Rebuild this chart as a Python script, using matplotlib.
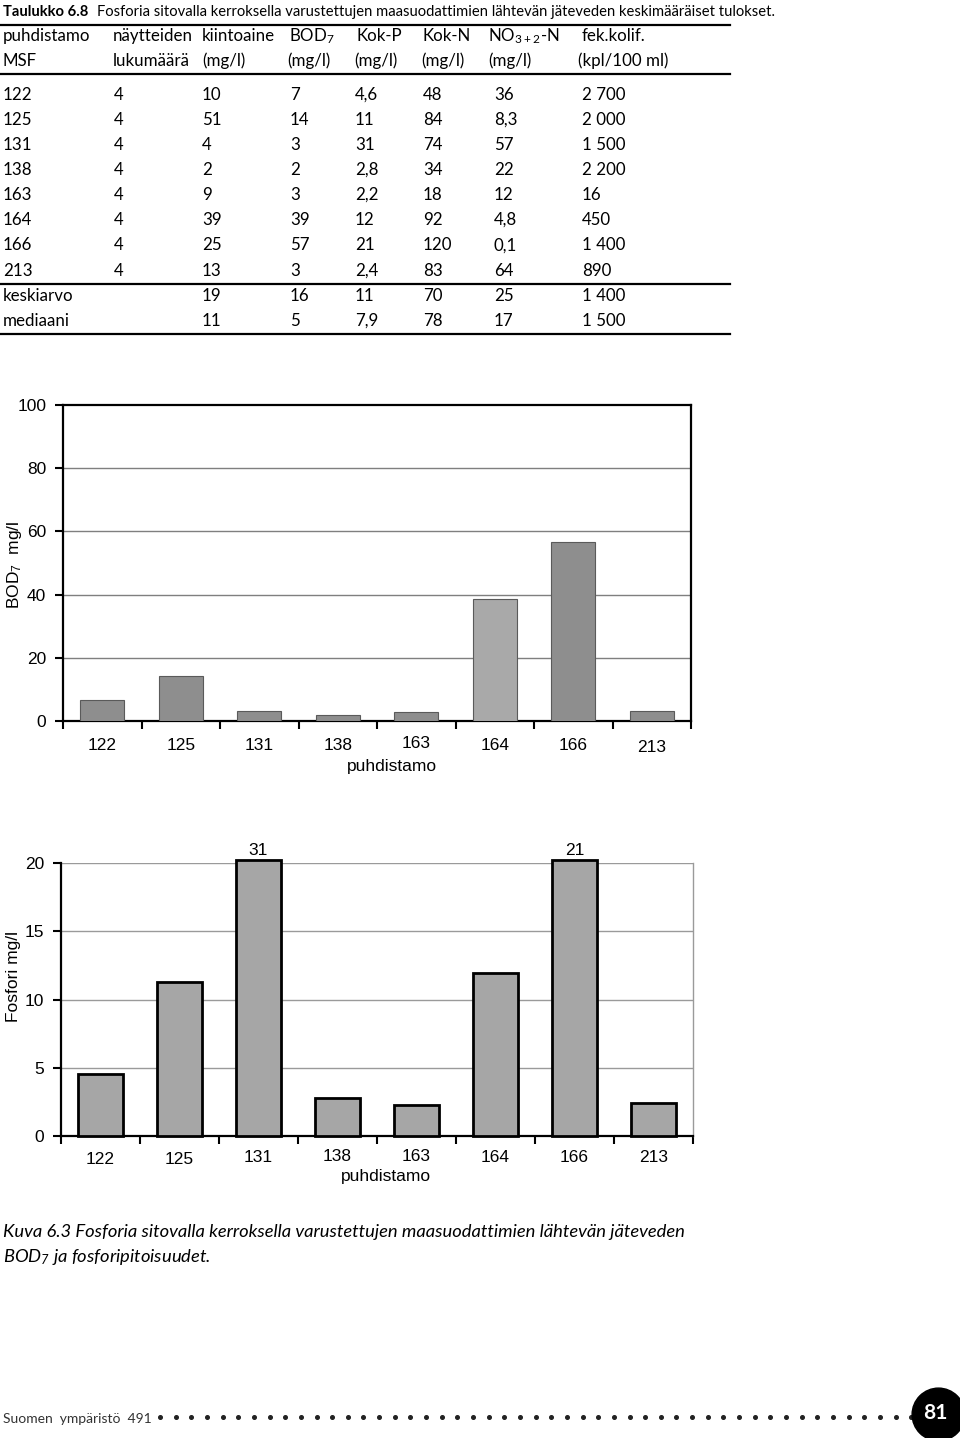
import numpy as np
import matplotlib
matplotlib.use("Agg")
import matplotlib.pyplot as plt
from matplotlib import font_manager

# --- table data ---
msf = ['122', '125', '131', '138', '163', '164', '166', '213']
n_samples = ['4', '4', '4', '4', '4', '4', '4', '4']
kiintoaine = ['10', '51', '4', '2', '9', '39', '25', '13']
bod7 = ['7', '14', '3', '2', '3', '39', '57', '3']
kok_p = ['4,6', '11', '31', '2,8', '2,2', '12', '21', '2,4']
kok_n = ['48', '84', '74', '34', '18', '92', '120', '83']
no32 = ['36', '8,3', '57', '22', '12', '4,8', '0,1', '64']
fek = ['2 700', '2 000', '1 500', '2 200', '16', '450', '1 400', '890']
keskiarvo = ['keskiarvo', '', '19', '16', '11', '70', '25', '1 400']
mediaani = ['mediaani', '', '11', '5', '7,9', '78', '17', '1 500']

# --- chart data ---
bod_bars = [6.5, 14.2, 3.3, 1.9, 2.8, 38.6, 56.6, 3.1]
bod_colors = ['#8e8e8e', '#8e8e8e', '#8e8e8e', '#8e8e8e', '#8e8e8e', '#a9a9a9', '#8e8e8e', '#8e8e8e']
p_bars = [4.54, 11.28, 31, 2.78, 2.25, 11.94, 21, 2.4]

W, H = 960, 1438
fig = plt.figure(figsize=(W / 100, H / 100), dpi=100)
renderer = fig.canvas.get_renderer()


def fx(x):
    return x / W


def fy(y):
    return 1 - y / H


# narrow font for the table if there is one
names = {f.name for f in font_manager.fontManager.ttflist}
if 'Liberation Sans Narrow' in names:
    tfont, tsize = ['Liberation Sans Narrow', 'DejaVu Sans'], 13
else:
    tfont, tsize = ['Lato', 'DejaVu Sans'], 12.2

# title, shrunk part of the way towards the page width
title_a = 'Taulukko 6.8'
title_b = 'Fosforia sitovalla kerroksella varustettujen maasuodattimien lähtevän jäteveden keskimääräiset tulokset.'
ta = fig.text(fx(3), fy(12), title_a, family=tfont, size=tsize, weight='bold', va='center')
tb = fig.text(fx(93), fy(12), title_b, family=tfont, size=tsize, va='center')
scale = (717 - 3) / (ta.get_window_extent(renderer).width + 12 + tb.get_window_extent(renderer).width)
scale = min(1.0, scale * 1.08)
ta.set_size(tsize * scale)
tb.set_size(tsize * scale)
tb.set_x(fx(ta.get_window_extent(renderer).x1 + 10 * scale))

# header
head1 = [('puhdistamo', 3), ('näytteiden', 113), ('kiintoaine', 202), (r'BOD$\mathregular{_7}$', 289),
         ('Kok-P', 356), ('Kok-N', 422), (r'NO$\mathregular{_{3+2}}$-N', 488), ('fek.kolif.', 582)]
head2 = [('MSF', 3), ('lukumäärä', 113), ('(mg/l)', 202), ('(mg/l)', 287),
         ('(mg/l)', 354), ('(mg/l)', 421), ('(mg/l)', 488), ('(kpl/100 ml)', 578)]
for txt, x in head1:
    fig.text(fx(x), fy(36), txt, family=tfont, size=tsize, va='center')
for txt, x in head2:
    fig.text(fx(x), fy(61), txt, family=tfont, size=tsize, va='center')

col_x = [3, 114, 202, 290, 355, 423, 494, 582]
rows = list(zip(msf, n_samples, kiintoaine, bod7, kok_p, kok_n, no32, fek))
row_y = [95, 120, 145, 170, 195, 220, 245.5, 270.5]
for r, y in zip(rows, row_y):
    for txt, x in zip(r, col_x):
        fig.text(fx(x), fy(y), txt, family=tfont, size=tsize, va='center')
for r, y in [(keskiarvo, 296), (mediaani, 321)]:
    for txt, x in zip(r, col_x):
        fig.text(fx(x), fy(y), txt, family=tfont, size=tsize, va='center')

for y in [25, 74, 284, 334]:
    fig.add_artist(plt.Line2D([0, fx(730)], [fy(y), fy(y)], color='black', lw=1.6))

# --- chart 1: BOD7 ---
cfont = ['Liberation Sans', 'DejaVu Sans']
csize = 12.5
x = np.arange(len(msf))

ax1 = fig.add_axes([fx(63), fy(721), fx(691 - 63), (721 - 405) / H])
ax1.bar(x, bod_bars, width=0.56, color=bod_colors, edgecolor='#5a5a5a', linewidth=0.8, zorder=3)
ax1.set_xlim(-0.5, 7.5)
ax1.set_ylim(0, 100)
ax1.set_yticks([0, 20, 40, 60, 80, 100])
for v in [20, 40, 60, 80]:
    ax1.axhline(v, color='#7f7f7f', lw=1, zorder=1)
ax1.set_xticks(np.arange(-0.5, 8, 1))
ax1.set_xticklabels([])
ax1.tick_params(axis='x', direction='out', length=6, width=1.5)
ax1.tick_params(axis='y', direction='out', length=6, width=1.5, labelsize=csize, pad=6)
for s in ax1.spines.values():
    s.set_linewidth(1.6)
for lab in ax1.get_yticklabels():
    lab.set_family(cfont)
lab_dy1 = [0, 0, 0, 0, -2, 0, 0, 2]
for i, (lab, dy) in enumerate(zip(msf, lab_dy1)):
    fig.text(fx(63 + (i + 0.5) * (691 - 63) / 8), fy(746 + dy), lab, family=cfont, size=csize, ha='center', va='center')
fig.text(fx(392), fy(767), 'puhdistamo', family=cfont, size=csize, ha='center', va='center')
fig.text(fx(15), fy(565), r'BOD$\mathregular{_7}$  mg/l', family=cfont, size=csize, rotation=90, ha='center', va='center')

# --- chart 2: Fosfori ---
ax2 = fig.add_axes([fx(61), fy(1136), fx(693 - 61), (1136 - 863) / H])
p_shown = np.minimum(p_bars, 20.2)
ax2.bar(x, p_shown, width=0.565, color='#a6a6a6', edgecolor='black', linewidth=2, zorder=3, clip_on=False)
ax2.set_xlim(-0.5, 7.5)
ax2.set_ylim(0, 20)
ax2.set_yticks([0, 5, 10, 15, 20])
for v in [5, 10, 15, 20]:
    ax2.axhline(v, color='#9a9a9a', lw=1, zorder=1)
ax2.spines['top'].set_visible(False)
ax2.spines['right'].set_color('#9a9a9a')
ax2.spines['right'].set_linewidth(1)
ax2.spines['left'].set_linewidth(1.6)
ax2.spines['bottom'].set_linewidth(1.6)
ax2.set_xticks(np.arange(-0.5, 8, 1))
ax2.set_xticklabels([])
ax2.tick_params(axis='x', direction='out', length=6, width=1.5)
ax2.tick_params(axis='y', direction='out', length=6, width=1.5, labelsize=csize, pad=6)
for lab in ax2.get_yticklabels():
    lab.set_family(cfont)
for i, v in enumerate(p_bars):
    if v > 20:
        ax2.text(i, 20.4, f'{v:g}', family=cfont, size=csize, ha='center', va='bottom')
lab_dy2 = [2, 2, 0, -1.5, -1.5, 0, 0, 0]
for i, (lab, dy) in enumerate(zip(msf, lab_dy2)):
    fig.text(fx(61 + (i + 0.5) * (693 - 61) / 8), fy(1158 + dy), lab, family=cfont, size=csize, ha='center', va='center')
fig.text(fx(386), fy(1176), 'puhdistamo', family=cfont, size=csize, ha='center', va='center')
fig.text(fx(14), fy(976), 'Fosfori mg/l', family=cfont, size=csize, rotation=90, ha='center', va='center')

# --- caption ---
capfont = ['Lato', 'DejaVu Sans']
fig.text(fx(3), fy(1232), 'Kuva 6.3 Fosforia sitovalla kerroksella varustettujen maasuodattimien lähtevän jäteveden',
         family=capfont, style='italic', size=13.2, va='center')
fig.text(fx(3), fy(1257), r'BOD$\mathregular{_7}$ ja fosforipitoisuudet.',
         family=capfont, style='italic', size=13.2, va='center')

# --- footer ---
fig.text(fx(3), fy(1419), 'Suomen  ympäristö  491', family=['Lato', 'DejaVu Sans'],
         size=10, color='#333333', va='center')
dots_x = np.arange(160, 912, 15.65)
fig.add_artist(plt.Line2D(fx(dots_x), np.full(len(dots_x), fy(1417)), ls='none', marker='o',
                          ms=2.6, color='#222222'))
fig.add_artist(plt.Line2D([fx(938)], [fy(1414)], ls='none', marker='o', ms=38, color='black'))
fig.text(fx(935), fy(1413), '81', family=tfont, size=15, weight='bold', color='white', ha='center', va='center')

fig.savefig('out.png', dpi=100)
